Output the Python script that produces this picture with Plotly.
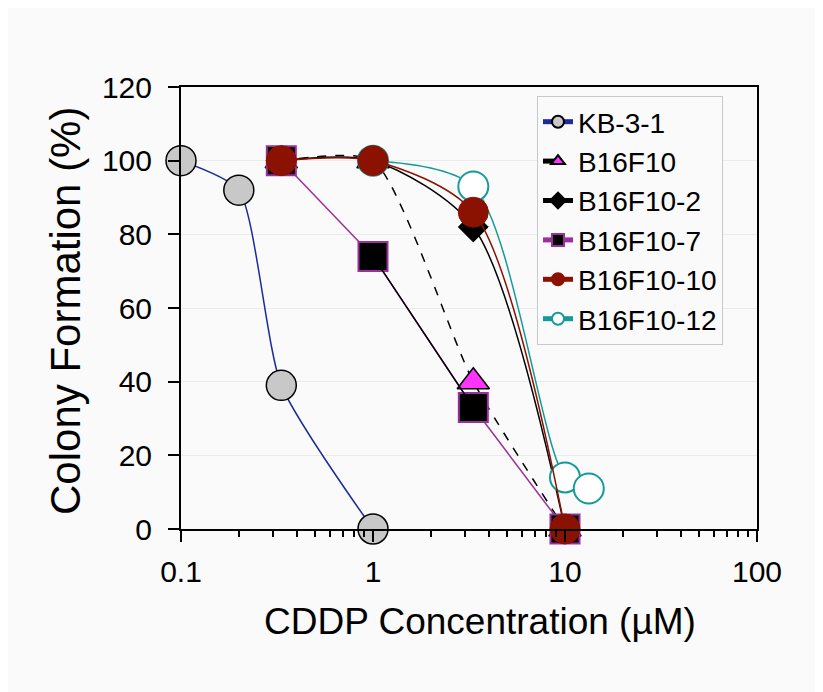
import plotly.graph_objects as go

# ---- data ----
conc_kb = [0.1, 0.2, 0.333, 1.0]
kb_3_1 = [100, 92, 39, 0]

conc_b16 = [0.333, 1.0, 3.33, 10.0]
b16f10 = [100, 100, 40, 0]
b16f10_2 = [100, 100, 82, 0]
b16f10_7 = [100, 74, 33, 0]
b16f10_10 = [100, 100, 86, 0]

conc_b12 = [1.0, 3.33, 10.0, 13.3]
b16f10_12 = [100, 93, 14, 11]

x_tickvals = [0.1, 1, 10, 100]
x_ticktext = ["0.1", "1", "10", "100"]
y_tickvals = [0, 20, 40, 60, 80, 100, 120]

# ---- layout geometry (page pixels; figure sits at page offset 8,8) ----
OFF = 8
W, H = 815, 684
PX0, PX1, PY0, PY1 = 181, 757, 87, 529  # plot area in page pixels
L, T = PX0 - OFF, PY0 - OFF
pw, ph = PX1 - PX0, PY1 - PY0
R, B = W - L - pw, H - T - ph


def px(xp):
    return (xp - PX0) / pw


def py(yp):
    return (PY1 - yp) / ph


FONT = "Liberation Sans, Arial, sans-serif"

fig = go.Figure()

fig.add_trace(go.Scatter(
    x=conc_kb, y=kb_3_1, name="KB-3-1", mode="lines+markers",
    line=dict(color="#1c2a9c", width=1.5, shape="spline", smoothing=0.6),
    marker=dict(symbol="circle", size=30, color="#c8c8c8",
                line=dict(color="black", width=1.5)),
    cliponaxis=False, legendrank=1))

fig.add_trace(go.Scatter(
    x=conc_b16, y=b16f10, name="B16F10", mode="lines+markers",
    line=dict(color="black", width=1.5, dash="dash", shape="spline", smoothing=0.6),
    marker=dict(symbol="triangle-up", size=28, color="#ff33ff",
                line=dict(color="black", width=1.5)),
    cliponaxis=False, legendrank=2))

fig.add_trace(go.Scatter(
    x=conc_b16, y=b16f10_7, name="B16F10-7", mode="lines+markers",
    line=dict(color="#9b2f9b", width=1.5),
    marker=dict(symbol="square", size=29, color="black",
                line=dict(color="#9b2f9b", width=2)),
    cliponaxis=False, legendrank=4))

# black segment of the B16F10-7 line between 1 and 3.33 uM
fig.add_trace(go.Scatter(
    x=conc_b16[1:3], y=b16f10_7[1:3], mode="lines", showlegend=False,
    line=dict(color="black", width=1.5), hoverinfo="skip"))

fig.add_trace(go.Scatter(
    x=conc_b16, y=b16f10_2, name="B16F10-2", mode="lines+markers",
    line=dict(color="black", width=1.5, shape="spline", smoothing=0.8),
    marker=dict(symbol="diamond", size=23, color="black",
                line=dict(color="black", width=1)),
    cliponaxis=False, legendrank=3))

fig.add_trace(go.Scatter(
    x=conc_b12, y=b16f10_12, name="B16F10-12", mode="lines+markers",
    line=dict(color="#159a9a", width=1.5, shape="spline", smoothing=0.8),
    marker=dict(symbol="circle", size=30, color="white",
                line=dict(color="#159a9a", width=2)),
    cliponaxis=False, legendrank=6))

fig.add_trace(go.Scatter(
    x=conc_b16, y=b16f10_10, name="B16F10-10", mode="lines+markers",
    line=dict(color="#8b1200", width=1.5, shape="spline", smoothing=0.8),
    marker=dict(symbol="circle", size=30, color="#8b1200",
                line=dict(color="#8b1200", width=1)),
    cliponaxis=False, legendrank=5))

fig.update_layout(
    width=W, height=H,
    margin=dict(l=L, r=R, t=T, b=B, pad=0),
    paper_bgcolor="#fafafa",
    plot_bgcolor="rgba(0,0,0,0)",
    font=dict(family=FONT, color="black"),
    showlegend=True,
    legend=dict(
        x=px(537), y=py(96), xanchor="left", yanchor="top",
        bgcolor="#fafafa", bordercolor="#c8c8c8", borderwidth=1,
        font=dict(size=28, family=FONT),
        itemsizing="constant", tracegroupgap=0,
    ),
    xaxis=dict(
        type="log", range=[-1, 2],
        tickmode="array", tickvals=x_tickvals, ticktext=x_ticktext,
        ticks="outside", ticklen=11, tickwidth=2, tickcolor="black",
        ticklabelstandoff=4,
        minor=dict(ticks="outside", ticklen=6, tickwidth=1.5, tickcolor="black",
                   tickmode="array",
                   tickvals=[0.2, 0.3, 0.4, 0.5, 0.6, 0.7, 0.8, 0.9,
                             2, 3, 4, 5, 6, 7, 8, 9,
                             20, 30, 40, 50, 60, 70, 80, 90],
                   showgrid=False),
        showline=True, linecolor="black", linewidth=2, mirror=True,
        showgrid=False, zeroline=False,
        tickfont=dict(size=30, family=FONT),
    ),
    yaxis=dict(
        range=[0, 120], tickmode="array", tickvals=y_tickvals,
        ticks="outside", ticklen=11, tickwidth=2, tickcolor="black",
        ticklabelstandoff=10,
        showline=True, linecolor="black", linewidth=2, mirror=True,
        showgrid=True, gridcolor="#ebebeb", gridwidth=1, zeroline=False,
        tickfont=dict(size=30, family=FONT),
    ),
    annotations=[
        dict(text="CDDP Concentration (µM)", xref="paper", yref="paper",
             x=px(480), y=py(621), xanchor="center", yanchor="middle",
             showarrow=False, font=dict(size=37, family=FONT)),
        dict(text="Colony Formation (%)", xref="paper", yref="paper",
             x=px(65), y=py(311), xanchor="center", yanchor="middle",
             textangle=-90, showarrow=False, font=dict(size=42, family=FONT)),
    ],
)

fig.write_html("out.html")
